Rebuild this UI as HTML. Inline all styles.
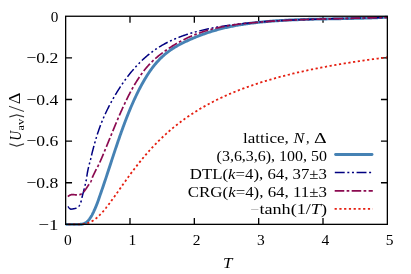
<!DOCTYPE html>
<html lang="en"><head><meta charset="utf-8"><title>U_av vs T</title>
<style>html,body{margin:0;padding:0;background:#fff}svg{display:block;will-change:transform}text{font-family:"Liberation Serif","DejaVu Serif",serif;fill:#000}.tk{font-size:15.5px}.lg{font-size:14px}.it{font-style:italic}</style></head><body>
<svg width="411" height="274" viewBox="0 0 411 274">
<rect width="411" height="274" fill="#fff"/>
<g stroke="#000" stroke-width="1.3" fill="none">
<path d="M129.99,224.35 v-6.4 M129.99,16.25 v6.4"/>
<path d="M194.33,224.35 v-6.4 M194.33,16.25 v6.4"/>
<path d="M258.67,224.35 v-6.4 M258.67,16.25 v6.4"/>
<path d="M323.01,224.35 v-6.4 M323.01,16.25 v6.4"/>
<path d="M65.65,57.87 h6.4 M387.35,57.87 h-6.4"/>
<path d="M65.65,99.49 h6.4 M387.35,99.49 h-6.4"/>
<path d="M65.65,141.11 h6.4 M387.35,141.11 h-6.4"/>
<path d="M65.65,182.73 h6.4 M387.35,182.73 h-6.4"/>
</g>
<clipPath id="c"><rect x="65.65" y="14.25" width="321.70000000000005" height="212.1"/></clipPath>
<g clip-path="url(#c)" fill="none" stroke-linejoin="round">
<path d="M65.65,224.35 L65.90,224.35 L66.15,224.35 L66.40,224.35 L66.64,224.35 L66.89,224.35 L67.14,224.35 L67.39,224.35 L67.64,224.35 L67.89,224.35 L68.13,224.35 L68.38,224.35 L68.63,224.35 L68.88,224.35 L69.13,224.35 L69.38,224.35 L69.63,224.35 L69.87,224.35 L70.12,224.35 L70.37,224.35 L70.62,224.35 L70.87,224.35 L71.12,224.35 L71.36,224.35 L71.61,224.35 L71.86,224.35 L72.11,224.35 L72.36,224.35 L72.61,224.35 L72.86,224.35 L73.10,224.35 L73.35,224.35 L73.60,224.35 L73.85,224.35 L74.10,224.35 L74.35,224.35 L74.59,224.35 L74.84,224.35 L75.09,224.35 L75.34,224.35 L75.59,224.35 L75.84,224.35 L76.09,224.35 L76.33,224.35 L76.58,224.35 L76.83,224.35 L77.08,224.35 L77.33,224.35 L77.58,224.35 L77.82,224.35 L78.07,224.35 L78.32,224.35 L78.57,224.35 L78.82,224.35 L79.07,224.34 L79.32,224.34 L79.56,224.34 L79.81,224.33 L80.06,224.33 L80.31,224.32 L80.56,224.31 L80.81,224.31 L81.05,224.30 L81.30,224.28 L81.55,224.25 L81.80,224.22 L82.05,224.17 L82.30,224.12 L82.54,224.05 L82.79,223.99 L83.04,223.91 L83.29,223.84 L83.54,223.76 L83.79,223.67 L84.04,223.59 L84.28,223.49 L84.53,223.39 L84.78,223.26 L85.03,223.13 L85.28,222.99 L85.53,222.83 L85.77,222.66 L86.02,222.49 L86.27,222.30 L86.52,222.11 L86.77,221.91 L87.02,221.70 L87.27,221.49 L87.51,221.28 L87.76,221.05 L88.01,220.81 L88.26,220.55 L88.51,220.27 L88.76,219.98 L89.00,219.67 L89.25,219.35 L89.50,219.02 L89.75,218.67 L90.00,218.31 L90.25,217.94 L90.50,217.56 L90.74,217.18 L90.99,216.79 L91.24,216.39 L91.49,215.98 L91.74,215.57 L91.99,215.13 L92.23,214.67 L92.48,214.19 L92.73,213.69 L92.98,213.18 L93.23,212.65 L93.48,212.11 L93.73,211.57 L93.97,211.02 L94.22,210.46 L94.47,209.91 L94.72,209.36 L94.97,208.80 L95.22,208.23 L95.46,207.65 L95.71,207.07 L95.96,206.47 L96.21,205.87 L96.46,205.26 L96.71,204.64 L96.96,204.01 L97.20,203.37 L97.45,202.71 L97.70,202.03 L97.95,201.35 L98.20,200.65 L98.45,199.95 L98.69,199.24 L98.94,198.52 L99.19,197.80 L99.44,197.07 L99.69,196.34 L99.94,195.61 L100.19,194.88 L100.43,194.15 L100.68,193.43 L100.93,192.71 L101.18,191.99 L101.43,191.28 L101.68,190.56 L101.92,189.85 L102.17,189.14 L102.42,188.43 L102.67,187.72 L102.92,187.00 L103.17,186.26 L103.42,185.53 L103.66,184.79 L103.91,184.06 L104.16,183.32 L104.41,182.57 L104.66,181.83 L104.91,181.08 L105.15,180.34 L105.40,179.59 L105.65,178.84 L105.90,178.09 L106.15,177.34 L106.40,176.59 L106.65,175.83 L106.89,175.08 L107.14,174.32 L107.39,173.57 L107.64,172.81 L107.89,172.05 L108.14,171.29 L108.38,170.53 L108.63,169.77 L108.88,169.01 L109.13,168.25 L109.38,167.49 L109.63,166.73 L109.88,165.97 L110.12,165.21 L110.37,164.45 L110.62,163.69 L110.87,162.93 L111.12,162.17 L111.37,161.42 L111.61,160.66 L111.86,159.90 L112.11,159.14 L112.36,158.39 L112.61,157.63 L112.86,156.87 L113.11,156.12 L113.35,155.37 L113.60,154.62 L113.85,153.86 L114.10,153.11 L114.35,152.37 L114.60,151.62 L114.84,150.87 L115.09,150.13 L115.34,149.39 L115.59,148.64 L115.84,147.90 L116.09,147.17 L116.33,146.43 L116.58,145.69 L116.83,144.96 L117.08,144.23 L117.33,143.50 L117.58,142.77 L117.83,142.04 L118.07,141.32 L118.32,140.60 L118.57,139.88 L118.82,139.16 L119.07,138.44 L119.32,137.72 L119.56,137.01 L119.81,136.30 L120.06,135.59 L120.31,134.88 L120.56,134.18 L120.81,133.48 L121.06,132.78 L121.30,132.08 L121.55,131.38 L121.80,130.69 L122.05,130.00 L122.30,129.31 L122.55,128.63 L122.79,127.94 L123.04,127.26 L123.29,126.58 L123.54,125.91 L123.79,125.24 L124.04,124.57 L124.29,123.90 L124.53,123.23 L124.78,122.57 L125.03,121.91 L125.28,121.26 L125.53,120.60 L125.78,119.95 L126.02,119.31 L126.27,118.66 L126.52,118.02 L126.77,117.38 L127.02,116.75 L127.27,116.12 L127.52,115.49 L127.76,114.86 L128.01,114.24 L128.26,113.62 L128.51,113.01 L128.76,112.39 L129.01,111.78 L129.25,111.18 L129.50,110.58 L129.75,109.98 L130.00,109.38 L130.99,107.03 L131.99,104.73 L132.98,102.47 L133.97,100.27 L134.97,98.11 L135.96,96.00 L136.96,93.93 L137.95,91.92 L138.94,89.94 L139.94,88.02 L140.93,86.14 L141.92,84.31 L142.92,82.52 L143.91,80.78 L144.90,79.08 L145.90,77.44 L146.89,75.83 L147.89,74.28 L148.88,72.77 L149.87,71.30 L150.87,69.88 L151.86,68.51 L152.85,67.19 L153.85,65.90 L154.84,64.67 L155.83,63.47 L156.83,62.32 L157.82,61.21 L158.82,60.14 L159.81,59.10 L160.80,58.10 L161.80,57.14 L162.79,56.21 L163.78,55.32 L164.78,54.46 L165.77,53.62 L166.76,52.82 L167.76,52.05 L168.75,51.30 L169.75,50.58 L170.74,49.88 L171.73,49.20 L172.73,48.55 L173.72,47.92 L174.71,47.31 L175.71,46.72 L176.70,46.14 L177.69,45.58 L178.69,45.04 L179.68,44.51 L180.68,43.99 L181.67,43.48 L182.66,42.98 L183.66,42.49 L184.65,42.01 L185.64,41.54 L186.64,41.07 L187.63,40.61 L188.62,40.15 L189.62,39.70 L190.61,39.26 L191.61,38.83 L192.60,38.40 L193.59,37.98 L194.59,37.56 L195.58,37.15 L196.57,36.75 L197.57,36.35 L198.56,35.96 L199.55,35.58 L200.55,35.20 L201.54,34.83 L202.53,34.47 L203.53,34.11 L204.52,33.76 L205.52,33.41 L206.51,33.07 L207.50,32.74 L208.50,32.41 L209.49,32.09 L210.48,31.77 L211.48,31.46 L212.47,31.16 L213.46,30.86 L214.46,30.56 L215.45,30.28 L216.45,30.00 L217.44,29.72 L218.43,29.45 L219.43,29.18 L220.42,28.92 L221.41,28.67 L222.41,28.42 L223.40,28.18 L224.39,27.94 L225.39,27.71 L226.38,27.48 L227.38,27.25 L228.37,27.04 L229.36,26.82 L230.36,26.61 L231.35,26.41 L232.34,26.21 L233.34,26.01 L234.33,25.82 L235.32,25.64 L236.32,25.45 L237.31,25.28 L238.31,25.10 L239.30,24.93 L240.29,24.77 L241.29,24.60 L242.28,24.45 L243.27,24.29 L244.27,24.14 L245.26,23.99 L246.25,23.85 L247.25,23.71 L248.24,23.57 L249.24,23.44 L250.23,23.31 L251.22,23.18 L252.22,23.06 L253.21,22.94 L254.20,22.82 L255.20,22.70 L256.19,22.59 L257.18,22.48 L258.18,22.37 L259.17,22.27 L260.17,22.17 L261.16,22.07 L262.15,21.97 L263.15,21.87 L264.14,21.78 L265.13,21.69 L266.13,21.60 L267.12,21.52 L268.11,21.43 L269.11,21.35 L270.10,21.27 L271.10,21.19 L272.09,21.11 L273.08,21.04 L274.08,20.96 L275.07,20.89 L276.06,20.82 L277.06,20.75 L278.05,20.69 L279.04,20.62 L280.04,20.56 L281.03,20.50 L282.03,20.44 L283.02,20.38 L284.01,20.33 L285.01,20.27 L286.00,20.22 L286.99,20.16 L287.99,20.11 L288.98,20.06 L289.97,20.02 L290.97,19.97 L291.96,19.92 L292.96,19.88 L293.95,19.84 L294.94,19.80 L295.94,19.76 L296.93,19.72 L297.92,19.68 L298.92,19.64 L299.91,19.60 L300.90,19.57 L301.90,19.54 L302.89,19.50 L303.89,19.47 L304.88,19.44 L305.87,19.41 L306.87,19.38 L307.86,19.35 L308.85,19.32 L309.85,19.30 L310.84,19.27 L311.83,19.25 L312.83,19.22 L313.82,19.20 L314.82,19.17 L315.81,19.15 L316.80,19.13 L317.80,19.11 L318.79,19.08 L319.78,19.06 L320.78,19.04 L321.77,19.02 L322.76,19.00 L323.76,18.99 L324.75,18.97 L325.74,18.95 L326.74,18.93 L327.73,18.91 L328.73,18.89 L329.72,18.88 L330.71,18.86 L331.71,18.84 L332.70,18.82 L333.69,18.81 L334.69,18.79 L335.68,18.77 L336.67,18.76 L337.67,18.74 L338.66,18.72 L339.66,18.71 L340.65,18.69 L341.64,18.67 L342.64,18.65 L343.63,18.63 L344.62,18.62 L345.62,18.60 L346.61,18.58 L347.60,18.56 L348.60,18.54 L349.59,18.52 L350.59,18.50 L351.58,18.48 L352.57,18.46 L353.57,18.44 L354.56,18.41 L355.55,18.39 L356.55,18.37 L357.54,18.34 L358.53,18.32 L359.53,18.29 L360.52,18.27 L361.52,18.24 L362.51,18.21 L363.50,18.19 L364.50,18.16 L365.49,18.13 L366.48,18.10 L367.48,18.06 L368.47,18.03 L369.46,18.00 L370.46,17.96 L371.45,17.93 L372.45,17.89 L373.44,17.85 L374.43,17.81 L375.43,17.77 L376.42,17.73 L377.41,17.69 L378.41,17.64 L379.40,17.60 L380.39,17.55 L381.39,17.50 L382.38,17.46 L383.38,17.40 L384.37,17.35 L385.36,17.30 L386.36,17.24 L387.35,17.19" stroke="#4682b4" stroke-width="2.9" stroke-linecap="round"/>
<path d="M68.00,206.30 L68.24,206.70 L68.48,207.08 L68.72,207.42 L68.96,207.74 L69.20,208.02 L69.44,208.26 L69.68,208.46 L69.92,208.65 L70.15,208.84 L70.39,208.99 L70.63,209.10 L70.87,209.15 L71.11,209.15 L71.35,209.13 L71.59,209.11 L71.83,209.08 L72.07,209.05 L72.31,209.01 L72.55,208.97 L72.79,208.93 L73.03,208.90 L73.27,208.86 L73.51,208.82 L73.75,208.77 L73.98,208.73 L74.22,208.68 L74.46,208.63 L74.70,208.57 L74.94,208.50 L75.18,208.44 L75.42,208.36 L75.66,208.28 L75.90,208.19 L76.14,208.09 L76.38,207.99 L76.62,207.87 L76.86,207.75 L77.10,207.61 L77.34,207.46 L77.58,207.31 L77.81,207.14 L78.05,206.95 L78.29,206.76 L78.53,206.55 L78.77,206.33 L79.01,206.06 L79.25,205.73 L79.49,205.35 L79.73,204.93 L79.97,204.45 L80.21,203.93 L80.45,203.37 L80.69,202.76 L80.93,202.13 L81.17,201.32 L81.41,200.33 L81.64,199.23 L81.88,198.09 L82.12,197.02 L82.36,196.04 L82.60,195.10 L82.84,194.17 L83.08,193.25 L83.32,192.34 L83.56,191.42 L83.80,190.49 L84.04,189.55 L84.28,188.58 L84.52,187.59 L84.76,186.59 L85.00,185.58 L85.24,184.55 L85.47,183.53 L85.71,182.53 L85.95,181.56 L86.19,180.52 L86.43,179.26 L86.67,177.68 L86.91,175.94 L87.15,174.24 L87.39,172.75 L87.63,171.49 L87.87,170.30 L88.11,169.17 L88.35,168.09 L88.59,167.07 L88.83,166.07 L89.07,165.12 L89.31,164.19 L89.54,163.28 L89.78,162.43 L90.02,161.59 L90.26,160.75 L90.50,159.87 L90.74,158.93 L90.98,157.92 L91.22,156.85 L91.46,155.75 L91.70,154.67 L91.94,153.63 L92.18,152.65 L92.42,151.69 L92.66,150.75 L92.90,149.83 L93.14,148.92 L93.37,148.02 L93.61,147.12 L93.85,146.24 L94.09,145.36 L94.33,144.50 L94.57,143.64 L94.81,142.78 L95.05,141.94 L95.29,141.11 L95.53,140.29 L95.77,139.48 L96.01,138.68 L96.25,137.88 L96.49,137.10 L96.73,136.32 L96.97,135.56 L97.20,134.80 L97.44,134.05 L97.68,133.32 L97.92,132.59 L98.16,131.87 L98.40,131.16 L98.64,130.45 L98.88,129.76 L99.12,129.08 L99.36,128.40 L99.60,127.73 L99.84,127.07 L100.08,126.42 L100.32,125.77 L100.56,125.14 L100.80,124.51 L101.03,123.89 L101.27,123.27 L101.51,122.66 L101.75,122.06 L101.99,121.47 L102.23,120.88 L102.47,120.30 L102.71,119.72 L102.95,119.15 L103.19,118.59 L103.43,118.03 L103.67,117.48 L103.91,116.93 L104.15,116.39 L104.39,115.85 L104.63,115.32 L104.86,114.79 L105.10,114.27 L105.34,113.75 L105.58,113.23 L105.82,112.72 L106.06,112.22 L106.30,111.72 L106.54,111.22 L106.78,110.72 L107.02,110.23 L107.26,109.74 L107.50,109.26 L107.74,108.77 L107.98,108.29 L108.22,107.82 L108.46,107.34 L108.69,106.87 L108.93,106.41 L109.17,105.94 L109.41,105.48 L109.65,105.02 L109.89,104.56 L110.13,104.11 L110.37,103.66 L110.61,103.21 L110.85,102.76 L111.09,102.32 L111.33,101.88 L111.57,101.44 L111.81,101.00 L112.05,100.57 L112.29,100.14 L112.53,99.71 L112.76,99.28 L113.00,98.86 L113.24,98.43 L113.48,98.01 L113.72,97.60 L113.96,97.18 L114.20,96.77 L114.44,96.36 L114.68,95.95 L114.92,95.54 L115.16,95.14 L115.40,94.74 L115.64,94.34 L115.88,93.94 L116.12,93.54 L116.36,93.15 L116.59,92.75 L116.83,92.36 L117.07,91.97 L117.31,91.59 L117.55,91.20 L117.79,90.82 L118.03,90.44 L118.27,90.06 L118.51,89.68 L118.75,89.30 L118.99,88.93 L119.23,88.56 L119.47,88.19 L119.71,87.82 L119.95,87.45 L120.19,87.08 L120.42,86.72 L120.66,86.36 L120.90,86.00 L121.14,85.64 L121.38,85.28 L121.62,84.92 L121.86,84.57 L122.10,84.22 L122.34,83.87 L122.58,83.52 L122.82,83.17 L123.06,82.83 L123.30,82.49 L123.54,82.14 L123.78,81.80 L124.02,81.46 L124.25,81.13 L124.49,80.79 L124.73,80.46 L124.97,80.13 L125.21,79.80 L125.45,79.47 L125.69,79.14 L125.93,78.82 L126.17,78.49 L126.41,78.17 L126.65,77.85 L126.89,77.53 L127.13,77.21 L127.37,76.90 L127.61,76.58 L127.85,76.27 L128.08,75.96 L128.32,75.65 L128.56,75.34 L128.80,75.04 L129.04,74.73 L129.28,74.43 L129.52,74.13 L129.76,73.83 L130.00,73.53 L130.99,72.30 L131.99,71.11 L132.98,69.94 L133.97,68.79 L134.97,67.67 L135.96,66.57 L136.96,65.50 L137.95,64.45 L138.94,63.42 L139.94,62.42 L140.93,61.44 L141.92,60.48 L142.92,59.55 L143.91,58.63 L144.90,57.74 L145.90,56.87 L146.89,56.02 L147.89,55.19 L148.88,54.37 L149.87,53.58 L150.87,52.81 L151.86,52.05 L152.85,51.32 L153.85,50.60 L154.84,49.90 L155.83,49.21 L156.83,48.55 L157.82,47.90 L158.82,47.26 L159.81,46.64 L160.80,46.04 L161.80,45.45 L162.79,44.88 L163.78,44.32 L164.78,43.77 L165.77,43.24 L166.76,42.72 L167.76,42.21 L168.75,41.72 L169.75,41.24 L170.74,40.77 L171.73,40.31 L172.73,39.86 L173.72,39.43 L174.71,39.00 L175.71,38.58 L176.70,38.17 L177.69,37.78 L178.69,37.39 L179.68,37.00 L180.68,36.63 L181.67,36.27 L182.66,35.91 L183.66,35.56 L184.65,35.22 L185.64,34.88 L186.64,34.55 L187.63,34.23 L188.62,33.91 L189.62,33.61 L190.61,33.30 L191.61,33.01 L192.60,32.72 L193.59,32.44 L194.59,32.16 L195.58,31.89 L196.57,31.62 L197.57,31.36 L198.56,31.11 L199.55,30.86 L200.55,30.62 L201.54,30.38 L202.53,30.14 L203.53,29.91 L204.52,29.69 L205.52,29.47 L206.51,29.25 L207.50,29.04 L208.50,28.83 L209.49,28.62 L210.48,28.42 L211.48,28.22 L212.47,28.03 L213.46,27.84 L214.46,27.65 L215.45,27.47 L216.45,27.29 L217.44,27.11 L218.43,26.94 L219.43,26.77 L220.42,26.60 L221.41,26.44 L222.41,26.28 L223.40,26.12 L224.39,25.97 L225.39,25.81 L226.38,25.67 L227.38,25.52 L228.37,25.38 L229.36,25.24 L230.36,25.10 L231.35,24.96 L232.34,24.83 L233.34,24.70 L234.33,24.58 L235.32,24.45 L236.32,24.33 L237.31,24.21 L238.31,24.09 L239.30,23.98 L240.29,23.86 L241.29,23.75 L242.28,23.64 L243.27,23.54 L244.27,23.43 L245.26,23.33 L246.25,23.23 L247.25,23.13 L248.24,23.03 L249.24,22.94 L250.23,22.84 L251.22,22.75 L252.22,22.66 L253.21,22.57 L254.20,22.48 L255.20,22.40 L256.19,22.31 L257.18,22.23 L258.18,22.15 L259.17,22.07 L260.17,21.99 L261.16,21.91 L262.15,21.83 L263.15,21.76 L264.14,21.68 L265.13,21.61 L266.13,21.54 L267.12,21.47 L268.11,21.40 L269.11,21.33 L270.10,21.26 L271.10,21.20 L272.09,21.13 L273.08,21.07 L274.08,21.01 L275.07,20.95 L276.06,20.89 L277.06,20.83 L278.05,20.77 L279.04,20.71 L280.04,20.66 L281.03,20.60 L282.03,20.55 L283.02,20.50 L284.01,20.45 L285.01,20.40 L286.00,20.35 L286.99,20.30 L287.99,20.25 L288.98,20.20 L289.97,20.16 L290.97,20.11 L291.96,20.07 L292.96,20.02 L293.95,19.98 L294.94,19.94 L295.94,19.90 L296.93,19.86 L297.92,19.82 L298.92,19.78 L299.91,19.74 L300.90,19.70 L301.90,19.66 L302.89,19.63 L303.89,19.59 L304.88,19.56 L305.87,19.52 L306.87,19.49 L307.86,19.46 L308.85,19.42 L309.85,19.39 L310.84,19.36 L311.83,19.33 L312.83,19.30 L313.82,19.27 L314.82,19.24 L315.81,19.21 L316.80,19.18 L317.80,19.15 L318.79,19.13 L319.78,19.10 L320.78,19.07 L321.77,19.05 L322.76,19.02 L323.76,18.99 L324.75,18.97 L325.74,18.94 L326.74,18.92 L327.73,18.89 L328.73,18.87 L329.72,18.84 L330.71,18.82 L331.71,18.80 L332.70,18.77 L333.69,18.75 L334.69,18.73 L335.68,18.70 L336.67,18.68 L337.67,18.66 L338.66,18.63 L339.66,18.61 L340.65,18.59 L341.64,18.57 L342.64,18.54 L343.63,18.52 L344.62,18.50 L345.62,18.48 L346.61,18.45 L347.60,18.43 L348.60,18.41 L349.59,18.38 L350.59,18.36 L351.58,18.34 L352.57,18.32 L353.57,18.29 L354.56,18.27 L355.55,18.25 L356.55,18.22 L357.54,18.20 L358.53,18.17 L359.53,18.15 L360.52,18.12 L361.52,18.10 L362.51,18.07 L363.50,18.05 L364.50,18.02 L365.49,18.00 L366.48,17.97 L367.48,17.94 L368.47,17.92 L369.46,17.89 L370.46,17.86 L371.45,17.83 L372.45,17.80 L373.44,17.77 L374.43,17.74 L375.43,17.71 L376.42,17.68 L377.41,17.65 L378.41,17.62 L379.40,17.58 L380.39,17.55 L381.39,17.52 L382.38,17.48 L383.38,17.45 L384.37,17.41 L385.36,17.38 L386.36,17.34 L387.35,17.30" stroke="#000080" stroke-width="1.5" stroke-dasharray="9.9 2.63 2.0 2.63 2.0 2.63"/>
<path d="M67.90,196.55 L68.14,196.34 L68.38,196.14 L68.62,195.96 L68.86,195.78 L69.10,195.62 L69.34,195.48 L69.58,195.36 L69.82,195.25 L70.06,195.13 L70.30,195.02 L70.54,194.92 L70.78,194.82 L71.02,194.74 L71.26,194.67 L71.50,194.63 L71.74,194.60 L71.98,194.60 L72.22,194.60 L72.46,194.61 L72.70,194.62 L72.94,194.64 L73.17,194.65 L73.41,194.67 L73.65,194.69 L73.89,194.71 L74.13,194.72 L74.37,194.74 L74.61,194.76 L74.85,194.77 L75.09,194.78 L75.33,194.79 L75.57,194.80 L75.81,194.80 L76.05,194.80 L76.29,194.80 L76.53,194.79 L76.77,194.79 L77.01,194.78 L77.25,194.77 L77.49,194.76 L77.73,194.75 L77.97,194.74 L78.21,194.72 L78.45,194.71 L78.69,194.69 L78.93,194.67 L79.17,194.65 L79.41,194.63 L79.65,194.61 L79.89,194.57 L80.13,194.51 L80.37,194.43 L80.61,194.32 L80.85,194.20 L81.09,194.06 L81.33,193.90 L81.57,193.74 L81.81,193.58 L82.05,193.41 L82.29,193.24 L82.53,193.05 L82.77,192.84 L83.01,192.61 L83.25,192.36 L83.48,192.09 L83.72,191.82 L83.96,191.53 L84.20,191.23 L84.44,190.92 L84.68,190.61 L84.92,190.29 L85.16,189.97 L85.40,189.66 L85.64,189.34 L85.88,189.02 L86.12,188.69 L86.36,188.34 L86.60,187.99 L86.84,187.63 L87.08,187.26 L87.32,186.89 L87.56,186.52 L87.80,186.14 L88.04,185.77 L88.28,185.39 L88.52,185.02 L88.76,184.66 L89.00,184.31 L89.24,183.98 L89.48,183.64 L89.72,183.31 L89.96,182.97 L90.20,182.61 L90.44,182.22 L90.68,181.81 L90.92,181.37 L91.16,180.88 L91.40,180.26 L91.64,179.55 L91.88,178.81 L92.12,178.09 L92.36,177.46 L92.60,176.88 L92.84,176.32 L93.08,175.78 L93.32,175.26 L93.56,174.76 L93.79,174.26 L94.03,173.77 L94.27,173.28 L94.51,172.81 L94.75,172.33 L94.99,171.86 L95.23,171.39 L95.47,170.91 L95.71,170.44 L95.95,169.97 L96.19,169.50 L96.43,169.04 L96.67,168.58 L96.91,168.13 L97.15,167.67 L97.39,167.22 L97.63,166.76 L97.87,166.30 L98.11,165.83 L98.35,165.36 L98.59,164.89 L98.83,164.41 L99.07,163.91 L99.31,163.40 L99.55,162.89 L99.79,162.37 L100.03,161.84 L100.27,161.31 L100.51,160.77 L100.75,160.23 L100.99,159.68 L101.23,159.13 L101.47,158.58 L101.71,158.02 L101.95,157.46 L102.19,156.90 L102.43,156.33 L102.67,155.76 L102.91,155.19 L103.15,154.61 L103.39,154.04 L103.63,153.46 L103.87,152.88 L104.11,152.30 L104.34,151.72 L104.58,151.14 L104.82,150.56 L105.06,149.98 L105.30,149.39 L105.54,148.81 L105.78,148.23 L106.02,147.64 L106.26,147.06 L106.50,146.47 L106.74,145.89 L106.98,145.30 L107.22,144.71 L107.46,144.13 L107.70,143.54 L107.94,142.95 L108.18,142.36 L108.42,141.78 L108.66,141.19 L108.90,140.60 L109.14,140.01 L109.38,139.43 L109.62,138.84 L109.86,138.25 L110.10,137.66 L110.34,137.08 L110.58,136.49 L110.82,135.90 L111.06,135.32 L111.30,134.73 L111.54,134.15 L111.78,133.56 L112.02,132.98 L112.26,132.39 L112.50,131.81 L112.74,131.22 L112.98,130.64 L113.22,130.06 L113.46,129.48 L113.70,128.90 L113.94,128.32 L114.18,127.74 L114.42,127.16 L114.65,126.58 L114.89,126.00 L115.13,125.43 L115.37,124.85 L115.61,124.28 L115.85,123.70 L116.09,123.13 L116.33,122.56 L116.57,121.99 L116.81,121.42 L117.05,120.85 L117.29,120.29 L117.53,119.72 L117.77,119.16 L118.01,118.60 L118.25,118.03 L118.49,117.47 L118.73,116.92 L118.97,116.36 L119.21,115.80 L119.45,115.25 L119.69,114.70 L119.93,114.15 L120.17,113.60 L120.41,113.05 L120.65,112.51 L120.89,111.96 L121.13,111.42 L121.37,110.88 L121.61,110.34 L121.85,109.80 L122.09,109.27 L122.33,108.74 L122.57,108.21 L122.81,107.68 L123.05,107.15 L123.29,106.63 L123.53,106.11 L123.77,105.59 L124.01,105.07 L124.25,104.55 L124.49,104.04 L124.73,103.53 L124.96,103.02 L125.20,102.52 L125.44,102.01 L125.68,101.51 L125.92,101.01 L126.16,100.52 L126.40,100.02 L126.64,99.53 L126.88,99.04 L127.12,98.56 L127.36,98.07 L127.60,97.59 L127.84,97.11 L128.08,96.63 L128.32,96.16 L128.56,95.69 L128.80,95.22 L129.04,94.75 L129.28,94.29 L129.52,93.83 L129.76,93.37 L130.00,92.91 L130.99,91.04 L131.99,89.22 L132.98,87.44 L133.97,85.70 L134.97,84.01 L135.96,82.36 L136.96,80.76 L137.95,79.19 L138.94,77.68 L139.94,76.20 L140.93,74.78 L141.92,73.39 L142.92,72.06 L143.91,70.77 L144.90,69.52 L145.90,68.31 L146.89,67.14 L147.89,66.02 L148.88,64.93 L149.87,63.87 L150.87,62.85 L151.86,61.86 L152.85,60.90 L153.85,59.97 L154.84,59.07 L155.83,58.19 L156.83,57.34 L157.82,56.51 L158.82,55.70 L159.81,54.90 L160.80,54.13 L161.80,53.36 L162.79,52.62 L163.78,51.88 L164.78,51.16 L165.77,50.45 L166.76,49.75 L167.76,49.07 L168.75,48.40 L169.75,47.74 L170.74,47.09 L171.73,46.45 L172.73,45.83 L173.72,45.21 L174.71,44.61 L175.71,44.02 L176.70,43.44 L177.69,42.87 L178.69,42.32 L179.68,41.77 L180.68,41.24 L181.67,40.71 L182.66,40.20 L183.66,39.69 L184.65,39.20 L185.64,38.71 L186.64,38.24 L187.63,37.78 L188.62,37.32 L189.62,36.88 L190.61,36.44 L191.61,36.01 L192.60,35.60 L193.59,35.19 L194.59,34.79 L195.58,34.40 L196.57,34.02 L197.57,33.65 L198.56,33.28 L199.55,32.93 L200.55,32.58 L201.54,32.24 L202.53,31.91 L203.53,31.58 L204.52,31.27 L205.52,30.96 L206.51,30.66 L207.50,30.37 L208.50,30.08 L209.49,29.80 L210.48,29.53 L211.48,29.26 L212.47,29.00 L213.46,28.75 L214.46,28.51 L215.45,28.27 L216.45,28.03 L217.44,27.81 L218.43,27.59 L219.43,27.37 L220.42,27.16 L221.41,26.96 L222.41,26.76 L223.40,26.57 L224.39,26.38 L225.39,26.20 L226.38,26.02 L227.38,25.85 L228.37,25.68 L229.36,25.51 L230.36,25.36 L231.35,25.20 L232.34,25.05 L233.34,24.90 L234.33,24.76 L235.32,24.62 L236.32,24.49 L237.31,24.36 L238.31,24.23 L239.30,24.11 L240.29,23.99 L241.29,23.87 L242.28,23.76 L243.27,23.64 L244.27,23.53 L245.26,23.43 L246.25,23.32 L247.25,23.22 L248.24,23.12 L249.24,23.03 L250.23,22.93 L251.22,22.84 L252.22,22.75 L253.21,22.66 L254.20,22.57 L255.20,22.48 L256.19,22.40 L257.18,22.31 L258.18,22.23 L259.17,22.15 L260.17,22.07 L261.16,21.99 L262.15,21.91 L263.15,21.83 L264.14,21.76 L265.13,21.69 L266.13,21.61 L267.12,21.54 L268.11,21.47 L269.11,21.40 L270.10,21.33 L271.10,21.27 L272.09,21.20 L273.08,21.14 L274.08,21.07 L275.07,21.01 L276.06,20.95 L277.06,20.89 L278.05,20.83 L279.04,20.77 L280.04,20.71 L281.03,20.66 L282.03,20.60 L283.02,20.55 L284.01,20.49 L285.01,20.44 L286.00,20.39 L286.99,20.34 L287.99,20.29 L288.98,20.24 L289.97,20.19 L290.97,20.14 L291.96,20.10 L292.96,20.05 L293.95,20.01 L294.94,19.96 L295.94,19.92 L296.93,19.88 L297.92,19.83 L298.92,19.79 L299.91,19.75 L300.90,19.71 L301.90,19.67 L302.89,19.64 L303.89,19.60 L304.88,19.56 L305.87,19.52 L306.87,19.49 L307.86,19.45 L308.85,19.42 L309.85,19.39 L310.84,19.35 L311.83,19.32 L312.83,19.29 L313.82,19.26 L314.82,19.22 L315.81,19.19 L316.80,19.16 L317.80,19.13 L318.79,19.10 L319.78,19.08 L320.78,19.05 L321.77,19.02 L322.76,18.99 L323.76,18.96 L324.75,18.94 L325.74,18.91 L326.74,18.88 L327.73,18.86 L328.73,18.83 L329.72,18.81 L330.71,18.78 L331.71,18.76 L332.70,18.73 L333.69,18.71 L334.69,18.68 L335.68,18.66 L336.67,18.64 L337.67,18.61 L338.66,18.59 L339.66,18.57 L340.65,18.54 L341.64,18.52 L342.64,18.50 L343.63,18.47 L344.62,18.45 L345.62,18.43 L346.61,18.41 L347.60,18.38 L348.60,18.36 L349.59,18.34 L350.59,18.32 L351.58,18.29 L352.57,18.27 L353.57,18.25 L354.56,18.23 L355.55,18.20 L356.55,18.18 L357.54,18.16 L358.53,18.13 L359.53,18.11 L360.52,18.09 L361.52,18.06 L362.51,18.04 L363.50,18.02 L364.50,17.99 L365.49,17.97 L366.48,17.94 L367.48,17.92 L368.47,17.89 L369.46,17.87 L370.46,17.84 L371.45,17.81 L372.45,17.79 L373.44,17.76 L374.43,17.73 L375.43,17.71 L376.42,17.68 L377.41,17.65 L378.41,17.62 L379.40,17.59 L380.39,17.56 L381.39,17.53 L382.38,17.50 L383.38,17.47 L384.37,17.44 L385.36,17.41 L386.36,17.38 L387.35,17.34" stroke="#8b0a50" stroke-width="1.7" stroke-dasharray="9.566 2.367 2.663 2.367"/>
<path d="M65.68,224.35 L65.90,224.35 L66.11,224.35 L66.33,224.35 L66.54,224.35 L66.76,224.35 L66.97,224.35 L67.19,224.35 L67.40,224.35 L67.62,224.35 L67.83,224.35 L68.05,224.35 L68.26,224.35 L68.48,224.35 L68.69,224.35 L68.91,224.35 L69.12,224.35 L69.34,224.35 L69.55,224.35 L69.77,224.35 L69.98,224.35 L70.20,224.35 L70.41,224.35 L70.63,224.35 L70.84,224.35 L71.06,224.35 L71.27,224.35 L71.49,224.35 L71.70,224.35 L71.92,224.35 L72.13,224.35 L72.35,224.35 L72.56,224.35 L72.78,224.35 L72.99,224.35 L73.21,224.35 L73.42,224.35 L73.64,224.35 L73.86,224.35 L74.07,224.35 L74.29,224.35 L74.50,224.35 L74.72,224.35 L74.93,224.35 L75.15,224.35 L75.36,224.35 L75.58,224.35 L75.79,224.35 L76.01,224.35 L76.22,224.35 L76.44,224.35 L76.65,224.35 L76.87,224.35 L77.08,224.34 L77.30,224.34 L77.51,224.34 L77.73,224.34 L77.94,224.34 L78.16,224.34 L78.37,224.33 L78.59,224.33 L78.80,224.33 L79.02,224.32 L79.23,224.32 L79.45,224.31 L79.66,224.31 L79.88,224.30 L80.09,224.29 L80.31,224.29 L80.52,224.28 L80.74,224.27 L80.95,224.26 L81.17,224.25 L81.38,224.23 L81.60,224.22 L81.81,224.20 L82.03,224.19 L82.24,224.17 L82.46,224.15 L82.67,224.13 L82.89,224.11 L83.10,224.09 L83.32,224.06 L83.53,224.04 L83.75,224.01 L83.96,223.98 L84.18,223.95 L84.39,223.92 L84.61,223.88 L84.82,223.84 L85.04,223.80 L85.25,223.76 L85.47,223.72 L85.68,223.68 L85.90,223.63 L86.11,223.58 L86.33,223.53 L86.54,223.47 L86.76,223.41 L86.97,223.36 L87.19,223.29 L87.40,223.23 L87.62,223.16 L87.84,223.09 L88.05,223.02 L88.27,222.95 L88.48,222.87 L88.70,222.79 L88.91,222.71 L89.13,222.62 L89.34,222.54 L89.56,222.45 L89.77,222.35 L89.99,222.26 L90.20,222.16 L90.42,222.06 L90.63,221.95 L90.85,221.85 L91.06,221.74 L91.28,221.62 L91.49,221.51 L91.71,221.39 L91.92,221.27 L92.14,221.14 L92.35,221.02 L92.57,220.89 L92.78,220.75 L93.00,220.62 L93.21,220.48 L93.43,220.34 L93.64,220.20 L93.86,220.05 L94.07,219.90 L94.29,219.75 L94.50,219.59 L94.72,219.43 L94.93,219.27 L95.15,219.11 L95.36,218.95 L95.58,218.78 L95.79,218.61 L96.01,218.43 L96.22,218.25 L96.44,218.08 L96.65,217.89 L96.87,217.71 L97.08,217.52 L97.30,217.33 L97.51,217.14 L97.73,216.95 L97.94,216.75 L98.16,216.55 L98.37,216.35 L98.59,216.15 L98.80,215.94 L99.02,215.73 L99.23,215.52 L99.45,215.31 L99.66,215.09 L99.88,214.87 L100.09,214.65 L100.31,214.43 L100.52,214.21 L100.74,213.98 L100.95,213.75 L101.17,213.52 L101.38,213.29 L101.60,213.06 L101.81,212.82 L102.03,212.58 L102.25,212.34 L102.46,212.10 L102.68,211.86 L102.89,211.61 L103.11,211.36 L103.32,211.11 L103.54,210.86 L103.75,210.61 L103.97,210.36 L104.18,210.10 L104.40,209.84 L104.61,209.59 L104.83,209.32 L105.04,209.06 L105.26,208.80 L105.47,208.53 L105.69,208.27 L105.90,208.00 L106.12,207.73 L106.33,207.46 L106.55,207.19 L106.76,206.92 L106.98,206.64 L107.19,206.37 L107.41,206.09 L107.62,205.81 L107.84,205.53 L108.05,205.25 L108.27,204.97 L108.48,204.69 L108.70,204.41 L108.91,204.12 L109.13,203.84 L109.34,203.55 L109.56,203.27 L109.77,202.98 L109.99,202.69 L110.20,202.40 L110.42,202.11 L110.63,201.82 L110.85,201.53 L111.06,201.23 L111.28,200.94 L111.49,200.65 L111.71,200.35 L111.92,200.06 L112.14,199.76 L112.35,199.46 L112.57,199.17 L112.78,198.87 L113.00,198.57 L113.21,198.27 L113.43,197.97 L113.64,197.67 L113.86,197.37 L114.07,197.07 L114.29,196.77 L114.50,196.47 L114.72,196.17 L114.93,195.87 L115.15,195.56 L115.36,195.26 L115.58,194.96 L115.79,194.65 L116.01,194.35 L116.23,194.05 L116.44,193.74 L116.66,193.44 L116.87,193.13 L117.09,192.83 L117.30,192.52 L117.52,192.22 L117.73,191.91 L117.95,191.61 L118.16,191.30 L118.38,191.00 L118.59,190.69 L118.81,190.39 L119.02,190.08 L119.24,189.78 L119.45,189.47 L119.67,189.17 L119.88,188.86 L120.10,188.55 L120.31,188.25 L120.53,187.94 L120.74,187.64 L120.96,187.33 L121.17,187.03 L121.39,186.72 L121.60,186.42 L121.82,186.11 L122.03,185.81 L122.25,185.51 L122.46,185.20 L122.68,184.90 L122.89,184.59 L123.11,184.29 L123.32,183.99 L123.54,183.68 L123.75,183.38 L123.97,183.08 L124.18,182.77 L124.40,182.47 L124.61,182.17 L124.83,181.87 L125.04,181.57 L125.26,181.27 L125.47,180.97 L125.69,180.67 L125.90,180.37 L126.12,180.07 L126.33,179.77 L126.55,179.47 L126.76,179.17 L126.98,178.87 L127.19,178.57 L127.41,178.28 L127.62,177.98 L127.84,177.68 L128.05,177.39 L128.27,177.09 L128.48,176.79 L128.70,176.50 L128.91,176.20 L129.13,175.91 L129.34,175.62 L129.56,175.32 L129.77,175.03 L129.99,174.74 L130.85,173.57 L131.71,172.41 L132.57,171.27 L133.43,170.12 L134.29,168.99 L135.15,167.87 L136.02,166.75 L136.88,165.65 L137.74,164.55 L138.60,163.46 L139.46,162.39 L140.32,161.32 L141.18,160.26 L142.04,159.21 L142.90,158.18 L143.76,157.15 L144.62,156.13 L145.48,155.12 L146.34,154.13 L147.20,153.14 L148.07,152.16 L148.93,151.19 L149.79,150.23 L150.65,149.29 L151.51,148.35 L152.37,147.42 L153.23,146.50 L154.09,145.59 L154.95,144.69 L155.81,143.80 L156.67,142.92 L157.53,142.05 L158.39,141.19 L159.26,140.34 L160.12,139.49 L160.98,138.66 L161.84,137.83 L162.70,137.02 L163.56,136.21 L164.42,135.41 L165.28,134.62 L166.14,133.84 L167.00,133.07 L167.86,132.31 L168.72,131.55 L169.58,130.80 L170.44,130.06 L171.31,129.33 L172.17,128.61 L173.03,127.89 L173.89,127.18 L174.75,126.48 L175.61,125.79 L176.47,125.10 L177.33,124.43 L178.19,123.76 L179.05,123.09 L179.91,122.44 L180.77,121.79 L181.63,121.14 L182.49,120.51 L183.36,119.88 L184.22,119.26 L185.08,118.64 L185.94,118.03 L186.80,117.43 L187.66,116.83 L188.52,116.24 L189.38,115.66 L190.24,115.08 L191.10,114.51 L191.96,113.94 L192.82,113.38 L193.68,112.83 L194.55,112.28 L195.41,111.74 L196.27,111.20 L197.13,110.67 L197.99,110.14 L198.85,109.62 L199.71,109.10 L200.57,108.59 L201.43,108.09 L202.29,107.58 L203.15,107.09 L204.01,106.60 L204.87,106.11 L205.73,105.63 L206.60,105.15 L207.46,104.68 L208.32,104.21 L209.18,103.75 L210.04,103.29 L210.90,102.84 L211.76,102.39 L212.62,101.95 L213.48,101.50 L214.34,101.07 L215.20,100.63 L216.06,100.21 L216.92,99.78 L217.79,99.36 L218.65,98.94 L219.51,98.53 L220.37,98.12 L221.23,97.72 L222.09,97.32 L222.95,96.92 L223.81,96.53 L224.67,96.14 L225.53,95.75 L226.39,95.37 L227.25,94.99 L228.11,94.61 L228.97,94.24 L229.84,93.87 L230.70,93.50 L231.56,93.14 L232.42,92.78 L233.28,92.42 L234.14,92.07 L235.00,91.72 L235.86,91.37 L236.72,91.02 L237.58,90.68 L238.44,90.34 L239.30,90.01 L240.16,89.68 L241.02,89.35 L241.89,89.02 L242.75,88.69 L243.61,88.37 L244.47,88.05 L245.33,87.74 L246.19,87.42 L247.05,87.11 L247.91,86.80 L248.77,86.50 L249.63,86.20 L250.49,85.90 L251.35,85.60 L252.21,85.30 L253.08,85.01 L253.94,84.72 L254.80,84.43 L255.66,84.14 L256.52,83.86 L257.38,83.58 L258.24,83.30 L259.10,83.02 L259.96,82.74 L260.82,82.47 L261.68,82.20 L262.54,81.93 L263.40,81.66 L264.26,81.40 L265.13,81.14 L265.99,80.88 L266.85,80.62 L267.71,80.36 L268.57,80.11 L269.43,79.85 L270.29,79.60 L271.15,79.36 L272.01,79.11 L272.87,78.86 L273.73,78.62 L274.59,78.38 L275.45,78.14 L276.32,77.90 L277.18,77.67 L278.04,77.43 L278.90,77.20 L279.76,76.97 L280.62,76.74 L281.48,76.51 L282.34,76.29 L283.20,76.06 L284.06,75.84 L284.92,75.62 L285.78,75.40 L286.64,75.18 L287.50,74.96 L288.37,74.75 L289.23,74.54 L290.09,74.32 L290.95,74.11 L291.81,73.91 L292.67,73.70 L293.53,73.49 L294.39,73.29 L295.25,73.08 L296.11,72.88 L296.97,72.68 L297.83,72.48 L298.69,72.29 L299.55,72.09 L300.42,71.90 L301.28,71.70 L302.14,71.51 L303.00,71.32 L303.86,71.13 L304.72,70.94 L305.58,70.75 L306.44,70.57 L307.30,70.38 L308.16,70.20 L309.02,70.02 L309.88,69.84 L310.74,69.66 L311.61,69.48 L312.47,69.30 L313.33,69.12 L314.19,68.95 L315.05,68.78 L315.91,68.60 L316.77,68.43 L317.63,68.26 L318.49,68.09 L319.35,67.92 L320.21,67.75 L321.07,67.59 L321.93,67.42 L322.79,67.26 L323.66,67.10 L324.52,66.93 L325.38,66.77 L326.24,66.61 L327.10,66.45 L327.96,66.29 L328.82,66.14 L329.68,65.98 L330.54,65.82 L331.40,65.67 L332.26,65.52 L333.12,65.36 L333.98,65.21 L334.85,65.06 L335.71,64.91 L336.57,64.76 L337.43,64.61 L338.29,64.47 L339.15,64.32 L340.01,64.18 L340.87,64.03 L341.73,63.89 L342.59,63.75 L343.45,63.60 L344.31,63.46 L345.17,63.32 L346.03,63.18 L346.90,63.04 L347.76,62.91 L348.62,62.77 L349.48,62.63 L350.34,62.50 L351.20,62.36 L352.06,62.23 L352.92,62.09 L353.78,61.96 L354.64,61.83 L355.50,61.70 L356.36,61.57 L357.22,61.44 L358.08,61.31 L358.95,61.18 L359.81,61.05 L360.67,60.93 L361.53,60.80 L362.39,60.68 L363.25,60.55 L364.11,60.43 L364.97,60.31 L365.83,60.18 L366.69,60.06 L367.55,59.94 L368.41,59.82 L369.27,59.70 L370.14,59.58 L371.00,59.46 L371.86,59.34 L372.72,59.23 L373.58,59.11 L374.44,58.99 L375.30,58.88 L376.16,58.76 L377.02,58.65 L377.88,58.54 L378.74,58.42 L379.60,58.31 L380.46,58.20 L381.32,58.09 L382.19,57.98 L383.05,57.87 L383.91,57.76 L384.77,57.65 L385.63,57.54 L386.49,57.43 L387.35,57.32" stroke="#e51e10" stroke-width="1.8" stroke-dasharray="2.2 2.555" stroke-dashoffset="2.1"/>
</g>
<rect x="65.65" y="16.25" width="321.70" height="208.10" stroke="#000" stroke-width="1.3" fill="none"/>
<text class="tk" x="58.4" y="21.55" text-anchor="end" textLength="7.6" lengthAdjust="spacingAndGlyphs">0</text>
<text class="tk" x="58.4" y="63.17" text-anchor="end" textLength="32.0" lengthAdjust="spacingAndGlyphs">−0.2</text>
<text class="tk" x="58.4" y="104.79" text-anchor="end" textLength="32.0" lengthAdjust="spacingAndGlyphs">−0.4</text>
<text class="tk" x="58.4" y="146.41" text-anchor="end" textLength="32.0" lengthAdjust="spacingAndGlyphs">−0.6</text>
<text class="tk" x="58.4" y="188.03" text-anchor="end" textLength="32.0" lengthAdjust="spacingAndGlyphs">−0.8</text>
<text class="tk" x="58.4" y="229.65" text-anchor="end" textLength="20.0" lengthAdjust="spacingAndGlyphs">−1</text>
<text class="tk" x="67.95" y="245.2" text-anchor="middle">0</text>
<text class="tk" x="132.29" y="245.2" text-anchor="middle">1</text>
<text class="tk" x="196.63" y="245.2" text-anchor="middle">2</text>
<text class="tk" x="260.97" y="245.2" text-anchor="middle">3</text>
<text class="tk" x="325.31" y="245.2" text-anchor="middle">4</text>
<text class="tk" x="389.65" y="245.2" text-anchor="middle">5</text>
<text class="tk it" x="227.7" y="267.7" text-anchor="middle" textLength="9.4" lengthAdjust="spacingAndGlyphs">T</text>
<text style="fill:#333" font-size="15" transform="translate(21.8,148.0) rotate(-90) scale(1.0,1.1)">⟨</text>
<text class="it" font-size="15" transform="translate(20.8,140.6) rotate(-90) scale(0.88,1.18)">U</text>
<text font-size="10.5" transform="translate(23.8,130.5) rotate(-90) scale(1.18,1.0)">av</text>
<text style="fill:#333" font-size="15" transform="translate(21.8,118.8) rotate(-90) scale(1.0,1.1)">⟩</text>
<text style="fill:#333" font-size="15" transform="translate(24.0,111.9) rotate(-90) scale(1.5,1.5)">/</text>
<text font-size="15" transform="translate(20.1,104.3) rotate(-90) scale(1.21,1.06)">Δ</text>
<text class="lg" x="243.0" y="143.3" textLength="45.8" lengthAdjust="spacingAndGlyphs">lattice,</text>
<text class="lg it" x="293.6" y="143.3" textLength="10.8" lengthAdjust="spacingAndGlyphs">N</text>
<text class="lg" x="306.0" y="143.3">,</text>
<text class="lg" x="314.0" y="143.3" textLength="12.7" lengthAdjust="spacingAndGlyphs">Δ</text>
<text class="lg" x="327" y="160.8" text-anchor="end" textLength="110.4" lengthAdjust="spacingAndGlyphs">(3,6,3,6), 100, 50</text>
<text class="lg" x="327" y="178.7" text-anchor="end" textLength="137.2" lengthAdjust="spacingAndGlyphs">DTL(<tspan class="it">k</tspan>=4), 64, 37±3</text>
<text class="lg" x="327" y="196.6" text-anchor="end" textLength="139.2" lengthAdjust="spacingAndGlyphs">CRG(<tspan class="it">k</tspan>=4), 64, 11±3</text>
<text class="lg" x="250.6" y="214.2" fill="#aaa" textLength="8.8" lengthAdjust="spacingAndGlyphs" style="fill:#aaa">−</text>
<text class="lg" x="327" y="214.2" text-anchor="end" textLength="67.6" lengthAdjust="spacingAndGlyphs">tanh(1/<tspan class="it">T</tspan>)</text>
<g fill="none">
<path d="M335.6,154.5 H372.0" stroke="#4682b4" stroke-width="2.9" stroke-linecap="round"/>
<path d="M334.8,172.6 H372.8" stroke="#000080" stroke-width="1.5" stroke-dasharray="9.9 2.63 2.0 2.63 2.0 2.63"/>
<path d="M334.70000000000005,190.8 H372.8" stroke="#8b0a50" stroke-width="1.7" stroke-dasharray="9.566 2.367 2.663 2.367"/>
<path d="M334.6,208.9 H372.8" stroke="#e51e10" stroke-width="1.8" stroke-dasharray="2.2 2.555"/>
</g>
</svg></body></html>
